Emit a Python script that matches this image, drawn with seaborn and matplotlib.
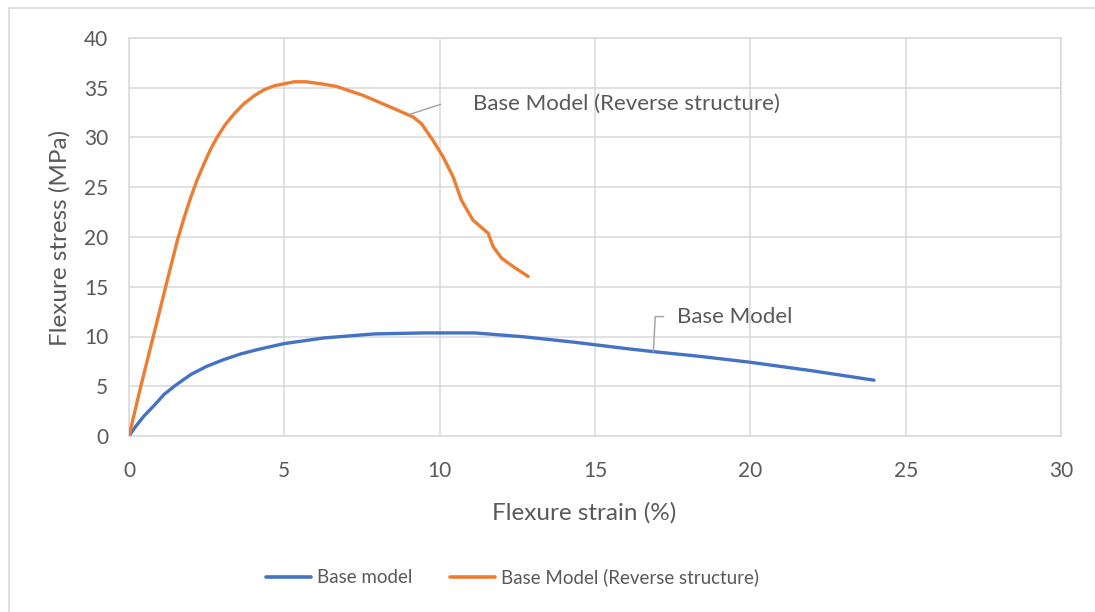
import numpy as np
import pandas as pd
import matplotlib
matplotlib.use("Agg")
import matplotlib.pyplot as plt
from matplotlib.lines import Line2D
import seaborn as sns

# Flexural stress-strain data
base_strain = [0.0, 0.20, 0.48, 0.81, 1.13, 1.50, 1.99, 2.50, 3.06, 3.60,
               4.14, 5.00, 6.29, 7.90, 9.52, 11.13, 12.74, 14.35, 15.97,
               16.88, 18.39, 20.00, 22.00, 23.98]
base_stress = [0.0, 0.90, 2.00, 3.07, 4.18, 5.10, 6.18, 7.00, 7.69, 8.25,
               8.69, 9.29, 9.86, 10.26, 10.36, 10.36, 9.96, 9.42, 8.80,
               8.48, 8.00, 7.41, 6.55, 5.61]

rev_strain = [0.0, 0.38, 0.81, 1.18, 1.56, 1.77, 1.99, 2.20, 2.42, 2.63,
              2.85, 3.10, 3.39, 3.70, 4.03, 4.35, 4.68, 5.32, 5.70, 6.18,
              6.67, 7.53, 8.28, 9.14, 9.41, 9.78, 10.11, 10.43, 10.70, 11.07,
              11.56, 11.72, 11.99, 12.36, 12.85]
rev_stress = [0.0, 5.0, 10.36, 15.0, 19.7, 21.9, 24.0, 25.8, 27.4, 28.85,
              30.1, 31.3, 32.4, 33.4, 34.2, 34.8, 35.2, 35.6, 35.6, 35.4,
              35.14, 34.24, 33.24, 32.07, 31.4, 29.73, 28.06, 26.06, 23.7, 21.7,
              20.38, 19.04, 17.88, 17.04, 16.03]

series_names = ["Base model", "Base Model (Reverse structure)"]
callout_texts = ["Base Model", "Base Model (Reverse structure)"]
x_ticks = [0, 5, 10, 15, 20, 25, 30]
y_ticks = [0, 5, 10, 15, 20, 25, 30, 35, 40]

df = pd.concat([
    pd.DataFrame({"strain": base_strain, "stress": base_stress, "series": series_names[0]}),
    pd.DataFrame({"strain": rev_strain, "stress": rev_stress, "series": series_names[1]}),
], ignore_index=True)

sns.set_style("white")
plt.rcParams["font.family"] = ["Lato", "DejaVu Sans"]
text_color = "#595959"
grid_color = "#D9D9D9"
palette = {series_names[0]: "#4472C4", series_names[1]: "#ED7D31"}

fig = plt.figure(figsize=(10.95, 6.12), dpi=100)
ax = fig.add_axes([129 / 1095, 1 - 436 / 612, 932 / 1095, 398 / 612])

sns.lineplot(data=df, x="strain", y="stress", hue="series", palette=palette,
             sort=False, estimator=None, linewidth=2.4, ax=ax, legend=False,
             zorder=3)
for ln in ax.lines:
    ln.set_solid_joinstyle("round")
    ln.set_solid_capstyle("round")

ax.set_xlim(0, 30)
ax.set_ylim(0, 40)
ax.set_xticks(x_ticks)
ax.set_yticks(y_ticks)
ax.grid(True, color=grid_color, linewidth=1.1)
ax.set_axisbelow(True)
for s in ax.spines.values():
    s.set_color(grid_color)
    s.set_linewidth(1.1)
ax.tick_params(length=0, labelsize=15, labelcolor=text_color)
ax.tick_params(axis="x", pad=18)
ax.tick_params(axis="y", pad=15)

ax.set_xlabel("Flexure strain (%)", fontsize=17.5, color=text_color)
ax.set_ylabel("Flexure stress (MPa)", fontsize=17.5, color=text_color)
ax.xaxis.set_label_coords(0.488, -0.193)
ax.xaxis.label.set_va("center")
ax.yaxis.set_label_coords(-0.074, 0.497)
ax.yaxis.label.set_va("center")

# Series callouts with leader lines
lead = dict(arrowstyle="-", color="#A6A6A6", lw=1.1, shrinkB=0)
ax.annotate(callout_texts[1], xy=(9.04, 32.33), xytext=(11.07, 33.34),
            fontsize=16, color=text_color, ha="left", va="center",
            arrowprops=dict(**lead, shrinkA=21, relpos=(0, 0.5),
                            connectionstyle="angle,angleA=0,angleB=18,rad=0"))
ax.annotate(callout_texts[0], xy=(16.88, 8.48), xytext=(17.63, 12.0),
            fontsize=16, color=text_color, ha="left", va="center",
            arrowprops=dict(**lead, shrinkA=7, relpos=(0, 0.5),
                            connectionstyle="angle,angleA=0,angleB=87,rad=0"))

# Legend below the plot
handles = [Line2D([], [], color=palette[n], lw=2.6) for n in series_names]
fig.legend(handles, series_names, loc="center", bbox_to_anchor=(0.468, 0.057),
           ncol=2, frameon=False, fontsize=13.5, labelcolor=text_color,
           handlelength=2.4, handletextpad=0.3, columnspacing=2.0)

# Chart frame
fig.add_artist(Line2D([9 / 1095, 9 / 1095], [0, 1 - 8 / 612],
                      transform=fig.transFigure, color=grid_color, lw=1.2))
fig.add_artist(Line2D([9 / 1095, 1], [1 - 8 / 612, 1 - 8 / 612],
                      transform=fig.transFigure, color=grid_color, lw=1.2))

fig.savefig("out.png", dpi=100, facecolor="white")
